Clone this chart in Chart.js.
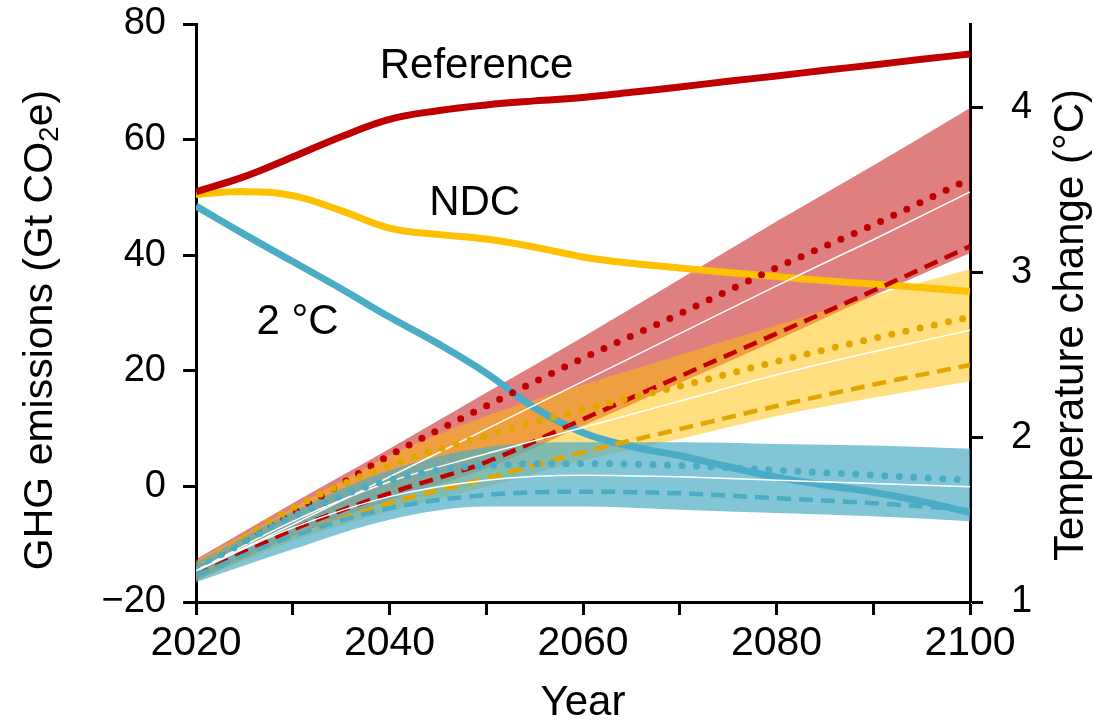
<!DOCTYPE html>
<html>
<head>
<meta charset="utf-8">
<title>GHG emissions and temperature change</title>
<script src="https://cdn.jsdelivr.net/npm/chart.js@4/dist/chart.umd.min.js"></script>
<style>
  html, body { margin: 0; padding: 0; background: #fff; }
  canvas { display: block; }
</style>
</head>
<body>
<canvas id="chart" width="1094" height="725"></canvas>
<script>
// emissions, left axis (Gt CO2e), every 5 years
const emissionYears = [2020, 2025, 2030, 2035, 2040, 2045, 2050, 2055, 2060, 2065, 2070, 2075, 2080, 2085, 2090, 2095, 2100];
const referenceEmissions = [51, 53.6, 57, 60.5, 63.5, 65, 66, 66.7, 67.3, 68.2, 69.1, 70.1, 71, 72, 72.9, 73.9, 74.8];
const ndcEmissions = [50.5, 51, 50.3, 47.7, 44.7, 43.6, 42.8, 41.4, 39.7, 38.6, 37.8, 37, 36.3, 35.6, 35, 34.4, 33.7];
const twoDegEmissions = [48.5, 43.6, 38.9, 34.2, 29.3, 24.7, 19.6, 13.6, 9.3, 6.9, 5.3, 3.4, 1.6, 0.2, -1.0, -2.6, -4.5];

// temperature change, right axis (°C), every 10 years
const tempYears = [2020, 2030, 2040, 2050, 2060, 2070, 2080, 2090, 2100];
const refTempUpper  = [1.26, 1.60, 1.93, 2.27, 2.61, 2.96, 3.31, 3.65, 4.00];
const refTempDotted = [1.20, 1.54, 1.89, 2.19, 2.48, 2.75, 3.03, 3.29, 3.57];
const refTempMedian = [1.19, 1.47, 1.76, 2.05, 2.34, 2.63, 2.92, 3.20, 3.49];
const refTempDashed = [1.16, 1.44, 1.66, 1.85, 2.11, 2.37, 2.63, 2.89, 3.16];
const refTempLower  = [1.13, 1.40, 1.62, 1.81, 2.07, 2.33, 2.59, 2.86, 3.12];

const ndcTempUpper  = [1.25, 1.57, 1.89, 2.13, 2.32, 2.50, 2.68, 2.86, 3.02];
const ndcTempDotted = [1.20, 1.57, 1.83, 2.01, 2.17, 2.31, 2.46, 2.60, 2.73];
const ndcTempMedian = [1.19, 1.49, 1.73, 1.90, 2.06, 2.22, 2.38, 2.52, 2.65];
const ndcTempDashed = [1.16, 1.40, 1.60, 1.75, 1.91, 2.05, 2.19, 2.32, 2.44];
const ndcTempLower  = [1.13, 1.37, 1.55, 1.70, 1.86, 1.99, 2.13, 2.24, 2.34];

const twoTempUpper  = [1.24, 1.55, 1.80, 1.94, 1.97, 1.97, 1.96, 1.95, 1.93];
const twoTempDotted = [1.20, 1.52, 1.74, 1.83, 1.84, 1.83, 1.80, 1.77, 1.74];
const twoTempMedian = [1.19, 1.45, 1.64, 1.74, 1.77, 1.76, 1.74, 1.72, 1.70];
const twoTempDashed = [1.16, 1.40, 1.57, 1.65, 1.67, 1.66, 1.63, 1.60, 1.56];
const twoTempLower  = [1.12, 1.32, 1.50, 1.58, 1.58, 1.56, 1.54, 1.52, 1.49];

const xTicks = [2020, 2040, 2060, 2080, 2100];

const FONT = "'Liberation Sans', Arial, Helvetica, sans-serif";
const RED = '#C00000', YELLOW = '#FFC000', DARK_YELLOW = '#E2A600', BLUE = '#4BACC6';

const pts = (xs, ys) => xs.map((x, i) => ({ x: x, y: ys[i] }));

function band(upper, lower, fillColor, order) {
    return [
        { data: pts(tempYears, lower), yAxisID: 'y1', borderWidth: 0, borderColor: 'transparent', fill: false, order: order },
        { data: pts(tempYears, upper), yAxisID: 'y1', borderWidth: 0, borderColor: 'transparent', backgroundColor: fillColor, fill: '-1', order: order }
    ];
}

function tempLine(values, color, style, order) {
    const ds = { data: pts(tempYears, values), yAxisID: 'y1', borderColor: color, fill: false, order: order };
    if (style === 'dotted') {
        ds.borderWidth = 7; ds.borderDash = [0, 14.5]; ds.borderCapStyle = 'round';
    } else if (style === 'dashed') {
        ds.borderWidth = 4.5; ds.borderDash = [14, 8];
    } else {
        ds.borderWidth = 1.5;
    }
    return ds;
}

function emissionLine(values, color, order) {
    return {
        data: pts(emissionYears, values), yAxisID: 'y', borderColor: color, borderWidth: 7,
        fill: false, order: order, cubicInterpolationMode: 'default', tension: 0.4
    };
}

const textLabels = [
    { text: 'Reference', x: 2049, y: 72.6 },
    { text: 'NDC', x: 2048.8, y: 49 },
    { text: '2 \u00B0C', x: 2030.5, y: 28.4 }
];

const labelPlugin = {
    id: 'labels',
    afterDraw(chart) {
        const ctx = chart.ctx;
        const xs = chart.scales.x, ys = chart.scales.y, area = chart.chartArea;
        ctx.save();
        ctx.fillStyle = '#000';
        ctx.font = '42px ' + FONT;
        ctx.textAlign = 'center';
        ctx.textBaseline = 'middle';
        textLabels.forEach(l => ctx.fillText(l.text, xs.getPixelForValue(l.x), ys.getPixelForValue(l.y)));

        // left axis title with subscript 2
        const cy = (area.top + area.bottom) / 2 + 17;
        const parts = [['GHG emissions (Gt CO', 41, 0], ['2', 28, 9], ['e)', 41, 0]];
        let total = 0;
        parts.forEach(p => { ctx.font = p[1] + 'px ' + FONT; total += ctx.measureText(p[0]).width; });
        ctx.translate(41, cy);
        ctx.rotate(-Math.PI / 2);
        ctx.textAlign = 'left';
        let pos = -total / 2;
        parts.forEach(p => {
            ctx.font = p[1] + 'px ' + FONT;
            ctx.fillText(p[0], pos, p[2]);
            pos += ctx.measureText(p[0]).width;
        });
        ctx.restore();

        // right axis title, reading upwards
        ctx.save();
        ctx.fillStyle = '#000';
        ctx.font = '42px ' + FONT;
        ctx.textAlign = 'center';
        ctx.textBaseline = 'middle';
        ctx.translate(1071, (area.top + area.bottom) / 2 + 12);
        ctx.rotate(-Math.PI / 2);
        ctx.fillText('Temperature change (\u00B0C)', 0, 0);
        ctx.restore();
    }
};

const axisLook = {
    grid: { drawOnChartArea: false, drawTicks: true, tickLength: 13, tickWidth: 3, color: '#000' },
    border: { display: true, color: '#000', width: 3 }
};

new Chart(document.getElementById('chart'), {
    type: 'line',
    data: {
        datasets: [
            ...band(refTempUpper, refTempLower, 'rgba(192,0,0,0.5)', 100),
            ...band(ndcTempUpper, ndcTempLower, 'rgba(255,192,0,0.5)', 90),
            ...band(twoTempUpper, twoTempLower, 'rgba(75,172,198,0.7)', 80),
            emissionLine(referenceEmissions, RED, 50),
            emissionLine(ndcEmissions, YELLOW, 50),
            emissionLine(twoDegEmissions, BLUE, 50),
            tempLine(refTempMedian, '#fff', 'solid', 40),
            tempLine(refTempDashed, RED, 'dashed', 40),
            tempLine(refTempDotted, RED, 'dotted', 40),
            tempLine(ndcTempMedian, '#fff', 'solid', 30),
            tempLine(ndcTempDashed, DARK_YELLOW, 'dashed', 30),
            tempLine(ndcTempDotted, DARK_YELLOW, 'dotted', 30),
            tempLine(twoTempMedian, '#fff', 'solid', 20),
            tempLine(twoTempDashed, BLUE, 'dashed', 20),
            tempLine(twoTempDotted, BLUE, 'dotted', 20)
        ]
    },
    options: {
        responsive: false,
        devicePixelRatio: 1,
        animation: false,
        layout: { padding: { top: 24, left: 0, right: 0, bottom: 0 } },
        elements: {
            point: { radius: 0, hoverRadius: 0 },
            line: { cubicInterpolationMode: 'monotone' }
        },
        plugins: { legend: { display: false }, tooltip: { enabled: false } },
        scales: {
            x: {
                type: 'linear', position: 'bottom', min: 2020, max: 2100,
                ...axisLook,
                ticks: {
                    stepSize: 10, color: '#000', padding: 4, maxRotation: 0,
                    font: { family: FONT, size: 41 },
                    callback: v => xTicks.includes(v) ? String(v) : ''
                },
                title: { display: true, text: 'Year', color: '#000', font: { family: FONT, size: 42, lineHeight: 1 }, padding: { top: 0, bottom: 1 } },
                afterFit: s => { s.height = 123; s.paddingLeft = 0; s.paddingRight = 0; }
            },
            y: {
                type: 'linear', position: 'left', min: -20, max: 80,
                ...axisLook,
                ticks: {
                    stepSize: 20, color: '#000', padding: 17,
                    font: { family: FONT, size: 38 },
                    callback: v => String(v).replace('-', '\u2212')
                },
                afterFit: s => { s.width = 196; s.paddingTop = 0; s.paddingBottom = 0; }
            },
            y1: {
                type: 'linear', position: 'right', min: 1, max: 4.51,
                ...axisLook,
                ticks: {
                    stepSize: 1, includeBounds: false, color: '#000', padding: 28,
                    font: { family: FONT, size: 38 }
                },
                afterFit: s => { s.width = 124; s.paddingTop = 0; s.paddingBottom = 0; }
            }
        }
    },
    plugins: [labelPlugin]
});
</script>
</body>
</html>
